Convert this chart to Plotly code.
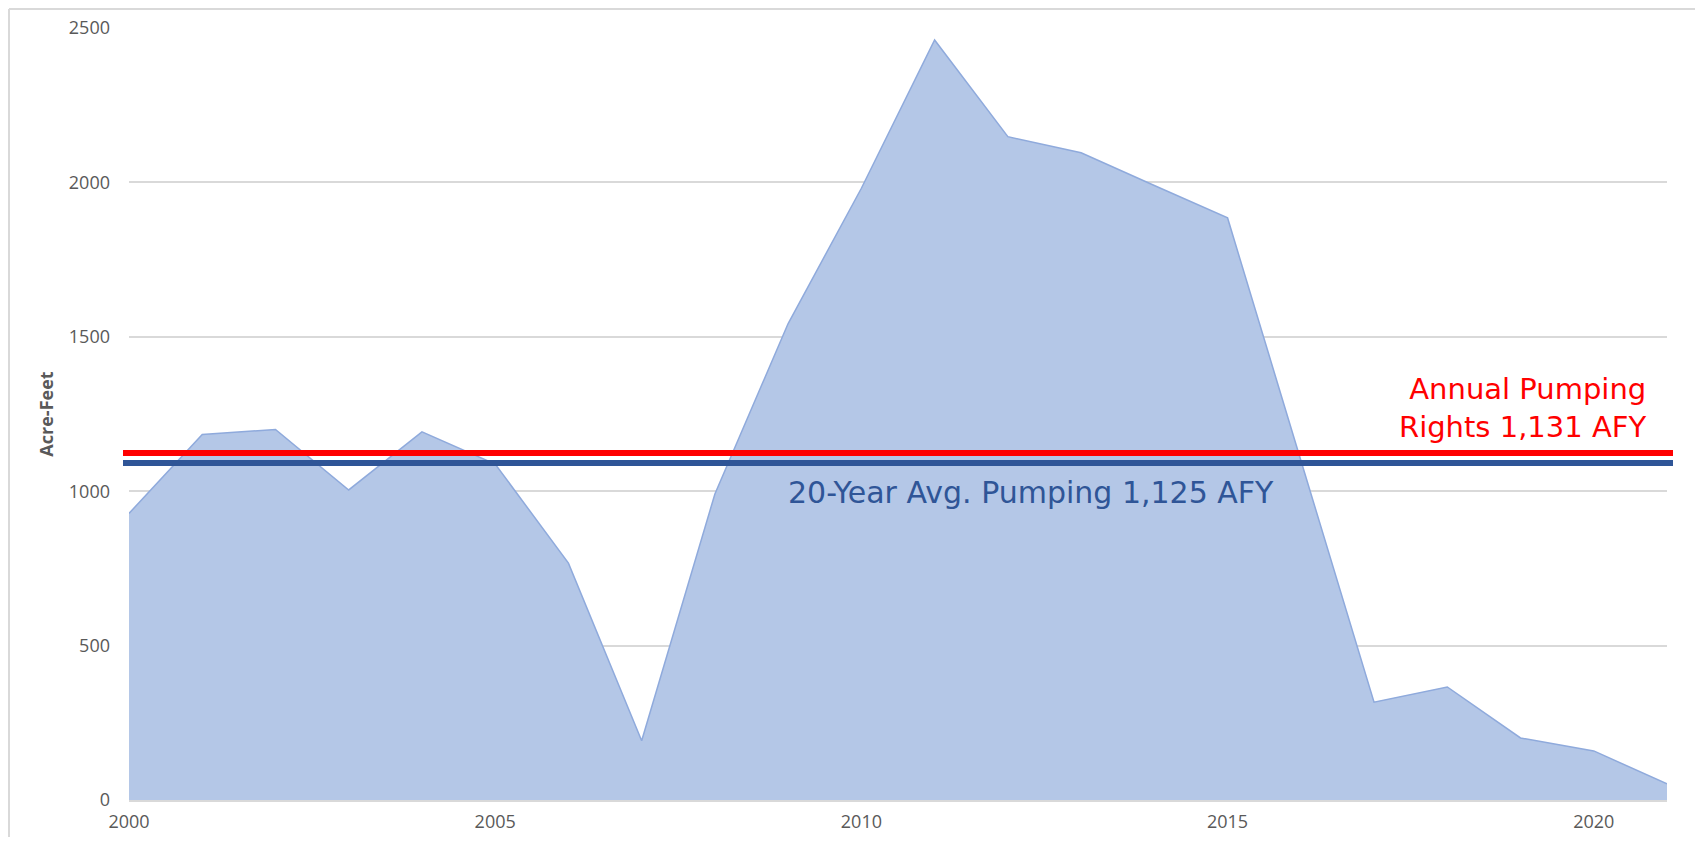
import plotly.graph_objects as go

# ---- data ----
years = list(range(2000, 2022))
acre_feet = [928, 1184, 1200, 1004, 1192, 1088, 767, 192, 991, 1543, 1981, 2461,
             2148, 2096, 1990, 1885, 1100, 317, 366, 201, 159, 52]
y_ticks = [0, 500, 1000, 1500, 2000, 2500]
x_ticks = [2000, 2005, 2010, 2015, 2020]
ref_levels = [1124, 1091]          # red (rights), blue (20-yr avg)
ref_colors = ["#FF0000", "#2F5597"]
rights_label = "Annual Pumping<br>Rights 1,131 AFY"
avg_label = "20-Year Avg. Pumping 1,125 AFY"

Y_MAX = 2500
OFF = 8                      # page body margin
W, H = 1707 - 2 * OFF - 4, 850 - 2 * OFF - 5   # leave room so no scrollbars appear
# plot area in page pixels: x 129..1667, y 28..800
ML, MT = 129 - OFF, 28 - OFF
MR = W - (1667 - OFF)
MB = H - (800 - OFF)
PW = W - ML - MR
PH = H - MT - MB


def px_x(page_x):
    return (page_x - 129) / PW


def px_y(page_y):
    return (800 - page_y) / PH


fig = go.Figure()
fig.add_trace(go.Scatter(
    x=years, y=acre_feet, mode="lines", fill="tozeroy",
    line=dict(color="#8FAADC", width=1.5),
    fillcolor="#B4C7E7", showlegend=False, hoverinfo="x+y"))

# reference lines slightly wider than plot area
ext = 6 / PW
for lvl, col in zip(ref_levels, ref_colors):
    fig.add_shape(type="line", xref="paper", yref="paper",
                  x0=-ext, x1=1 + ext, y0=lvl / Y_MAX, y1=lvl / Y_MAX,
                  line=dict(color=col, width=6), layer="above")

# outer chart border (left and top edges visible in the frame)
border = dict(color="#D9D9D9", width=2)
fig.add_shape(type="line", xref="paper", yref="paper",
              x0=px_x(OFF + 1), x1=px_x(OFF + 1), y0=px_y(OFF + H), y1=px_y(OFF + 1), line=border)
fig.add_shape(type="line", xref="paper", yref="paper",
              x0=px_x(OFF + 1), x1=px_x(OFF + W), y0=px_y(OFF + 1), y1=px_y(OFF + 1), line=border)

fig.add_annotation(text=rights_label, xref="paper", yref="paper",
                   x=px_x(1648), y=px_y(408), xanchor="right", yanchor="middle",
                   align="right", showarrow=False,
                   font=dict(family="DejaVu Sans", size=29, color="#FF0000"))
fig.add_annotation(text=avg_label, xref="paper", yref="paper",
                   x=px_x(1031), y=px_y(493), xanchor="center", yanchor="middle",
                   showarrow=False,
                   font=dict(family="DejaVu Sans", size=30, color="#2F5597"))

fig.update_layout(
    width=W, height=H,
    margin=dict(l=ML, r=MR, t=MT, b=MB, autoexpand=False),
    plot_bgcolor="white", paper_bgcolor="white",
    font=dict(family="Open Sans", size=18, color="#595959"),
    xaxis=dict(range=[2000, 2021], tickvals=x_ticks, showgrid=False,
               showline=True, linecolor="#D9D9D9", linewidth=1.5,
               ticks="", zeroline=False, ticklabelstandoff=5),
    yaxis=dict(range=[0, Y_MAX], tickvals=y_ticks, showgrid=True,
               gridcolor="#D9D9D9", gridwidth=1.5, zeroline=False,
               ticks="", ticklabelstandoff=18,
               title=dict(text="<b>Acre-Feet</b>", standoff=10,
                          font=dict(family="Open Sans", size=18, color="#595959"))),
)

fig.write_html("out.html")
